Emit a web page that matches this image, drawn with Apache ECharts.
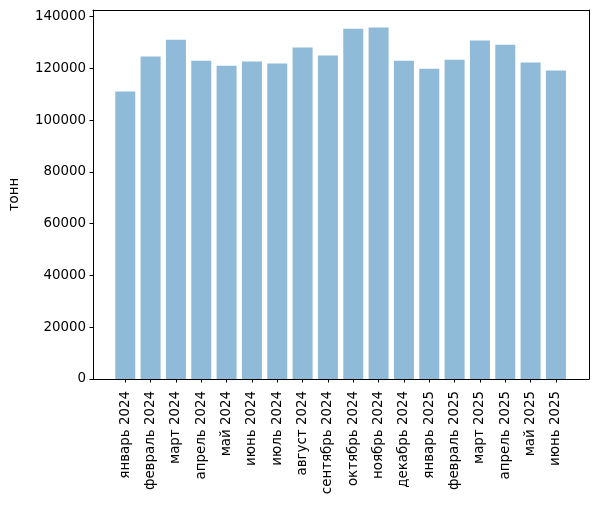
<!DOCTYPE html>
<html>
<head>
<meta charset="utf-8">
<script src="https://cdn.jsdelivr.net/npm/echarts@6/dist/echarts.min.js"></script>
<style>
  html, body { margin: 0; padding: 0; background: #fff; }
  #chart { width: 598px; height: 506px; }
</style>
</head>
<body>
<div id="chart"></div>
<script>
var months = ['январь 2024', 'февраль 2024', 'март 2024', 'апрель 2024', 'май 2024', 'июнь 2024',
  'июль 2024', 'август 2024', 'сентябрь 2024', 'октябрь 2024', 'ноябрь 2024', 'декабрь 2024',
  'январь 2025', 'февраль 2025', 'март 2025', 'апрель 2025', 'май 2025', 'июнь 2025'];
var tonnes = [111100, 124600, 131100, 123000, 121100, 122700,
  121900, 128100, 125000, 135400, 135800, 123000,
  119900, 123400, 130800, 129200, 122300, 119200];
var yMax = 142600;

var font = 'DejaVu Sans';
var fs = 13.4;
var black = { color: '#000', width: 1 };
var chart = echarts.init(document.getElementById('chart'));

// plain frame line, no ticks or labels
function frameAxis(o) {
  return Object.assign({
    axisLine: { show: true, onZero: false, lineStyle: black },
    axisTick: { show: false }, axisLabel: { show: false }, splitLine: { show: false }
  }, o);
}

chart.setOption({
  animation: false,
  textStyle: { fontFamily: font },
  grid: [
    { left: 93, right: 9, top: 10, bottom: 127 },
    // bars, narrowed to mimic matplotlib's x margins
    { left: 112.6, right: 29.4, top: 10, bottom: 127 }
  ],
  xAxis: [
    frameAxis({ gridIndex: 0, type: 'value', min: 0, max: 1, position: 'bottom' }),
    {
      gridIndex: 1, type: 'category', data: months,
      axisLine: { show: false },
      axisTick: { show: true, alignWithLabel: true, length: 3.5, lineStyle: black },
      axisLabel: { rotate: 90, fontSize: fs, color: '#000', margin: 12, interval: 0, fontFamily: font }
    },
    frameAxis({ gridIndex: 0, type: 'value', min: 0, max: 1, position: 'top' })
  ],
  yAxis: [
    {
      gridIndex: 0, type: 'value', min: 0, max: yMax, interval: 20000,
      name: 'тонн', nameLocation: 'middle', nameGap: 72, nameRotate: 90,
      nameTextStyle: { fontSize: fs, color: '#000', fontFamily: font },
      axisLine: { show: true, onZero: false, lineStyle: black },
      axisTick: { show: true, length: 3.5, lineStyle: black },
      axisLabel: { fontSize: fs, color: '#000', margin: 7, fontFamily: font,
        showMaxLabel: false, formatter: function(v) { return String(v); } },
      splitLine: { show: false }
    },
    { gridIndex: 1, type: 'value', min: 0, max: yMax, show: false },
    frameAxis({ gridIndex: 0, type: 'value', min: 0, max: 1, position: 'right' })
  ],
  series: [{
    type: 'bar',
    xAxisIndex: 1,
    yAxisIndex: 1,
    data: tonnes,
    barWidth: 20,
    itemStyle: { color: 'rgba(31,119,180,0.5)' }
  }]
});
</script>
</body>
</html>
